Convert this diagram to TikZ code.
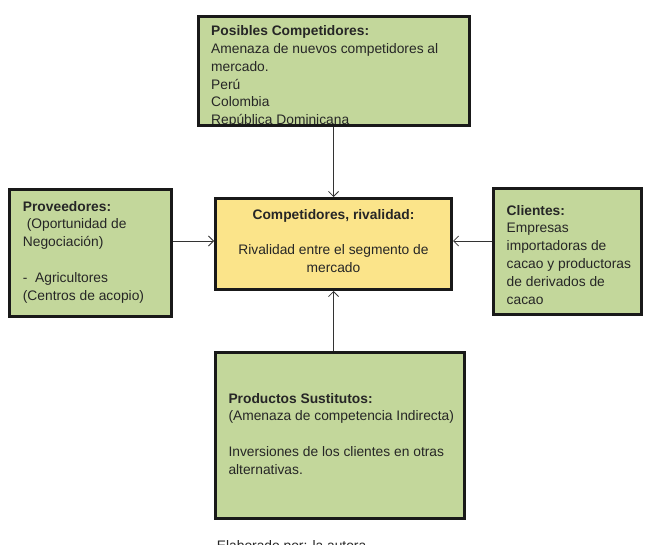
\documentclass[tikz,border=0pt]{standalone}
\usepackage{fontspec}
\setmainfont{Liberation Sans}
\usetikzlibrary{arrows.meta}
\definecolor{boxgreen}{RGB}{195,215,155}
\definecolor{boxyellow}{RGB}{251,228,138}
\begin{document}
\begin{tikzpicture}[x=1pt,y=-1pt,
  box/.style={draw=black!90,line width=3pt,rectangle,inner sep=0pt},
  gbox/.style={box,fill=boxgreen},
  ybox/.style={box,fill=boxyellow},
  txt/.style={anchor=north west,inner sep=0pt,align=left,font=\fontsize{13.8}{17.8}\selectfont,text=black!85},
  ctxt/.style={anchor=north,inner sep=0pt,align=center,font=\fontsize{13.8}{17.8}\selectfont,text=black!85},
  arr/.style={-{Straight Barb[length=5pt,width=10pt]},line width=0.8pt,draw=black!80}]
\useasboundingbox (0,0) rectangle (651,545);

\node[gbox,minimum width=271.5pt,minimum height=108.5pt] (top) at (334,70.8) {};
\node[gbox,minimum width=161.5pt,minimum height=127pt] (lft) at (90.7,253) {};
\node[ybox,minimum width=236pt,minimum height=91pt] (ctr) at (333.5,244) {};
\node[gbox,minimum width=148pt,minimum height=126pt] (rgt) at (567,252) {};
\node[gbox,minimum width=249pt,minimum height=165pt] (bot) at (340,435.5) {};

\begin{scope}
\clip ([xshift=1.5pt,yshift=-1.5pt]top.north west) rectangle ([xshift=-1.5pt,yshift=3pt]top.south east);
\node[txt] (toptext) at (211,25.5) {\textbf{Posibles Competidores:}\\Amenaza de nuevos competidores al\\mercado.\\Perú\\Colombia\\República Dominicana};
\end{scope}

\node[txt] (lfttext) at (22.7,201) {\textbf{Proveedores:}\\\hspace*{0.28em}(Oportunidad de\\Negociación)\\~\\-~~Agricultores\\(Centros de acopio)};
\node[ctxt] (ctrtext) at (333.5,209) {\textbf{Competidores, rivalidad:}\\~\\Rivalidad entre el segmento de\\mercado};
\node[txt] (rgttext) at (506.5,205) {\textbf{Clientes:}\\Empresas\\importadoras de\\cacao y productoras\\de derivados de\\cacao};
\node[txt] (bottext) at (228.3,393) {\textbf{Productos Sustitutos:}\\(Amenaza de competencia Indirecta)\\~\\Inversiones de los clientes en otras\\alternativas.};

\node[txt] (footer) at (216.7,540) {Elaborado por: la autora};

\draw[arr] (top.south -| ctr.north) -- (ctr.north);
\draw[arr] ([yshift=3pt]lft.east |- ctr.west) -- ([yshift=3pt]ctr.west);
\draw[arr] ([yshift=3pt]rgt.west |- ctr.east) -- ([yshift=3pt]ctr.east);
\draw[arr] (bot.north -| ctr.south) -- (ctr.south);
\end{tikzpicture}
\end{document}
